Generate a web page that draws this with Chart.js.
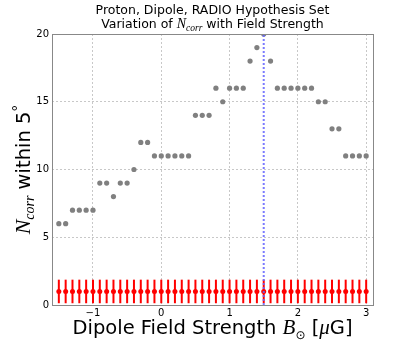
<!DOCTYPE html>
<html>
<head>
<meta charset="utf-8">
<script src="https://cdn.jsdelivr.net/npm/chart.js@4/dist/chart.umd.min.js"></script>
<style>
  html, body { margin: 0; padding: 0; background: #fff; }
  #wrap { width: 415px; height: 340px; }
</style>
</head>
<body>
<div id="wrap"><canvas id="myChart" width="415" height="340"></canvas></div>
<script>
// field strength values (micro gauss) and the N_corr
var fieldStrength = [-1.5, -1.4, -1.3, -1.2, -1.1, -1.0, -0.9, -0.8, -0.7, -0.6,
  -0.5, -0.4, -0.3, -0.2, -0.1, 0.0, 0.1, 0.2, 0.3, 0.4,
  0.5, 0.6, 0.7, 0.8, 0.9, 1.0, 1.1, 1.2, 1.3, 1.4,
  1.5, 1.6, 1.7, 1.8, 1.9, 2.0, 2.1, 2.2, 2.3, 2.4,
  2.5, 2.6, 2.7, 2.8, 2.9, 3.0];
var nCorr = [6, 6, 7, 7, 7, 7, 9, 9, 8, 9,
  9, 10, 12, 12, 11, 11, 11, 11, 11, 11,
  14, 14, 14, 16, 15, 16, 16, 16, 18, 19,
  20, 18, 16, 16, 16, 16, 16, 16, 15, 15,
  13, 13, 11, 11, 11, 11];
// isotropic expectation (red) with its error bar
var nullMean = [1, 1, 1, 1, 1, 1, 1, 1, 1, 1,
  1, 1, 1, 1, 1, 1, 1, 1, 1, 1,
  1, 1, 1, 1, 1, 1, 1, 1, 1, 1,
  1, 1, 1, 1, 1, 1, 1, 1, 1, 1,
  1, 1, 1, 1, 1, 1];
var nullErr = [0.87, 0.87, 0.87, 0.87, 0.87, 0.87, 0.87, 0.87, 0.87, 0.87,
  0.87, 0.87, 0.87, 0.87, 0.87, 0.87, 0.87, 0.87, 0.87, 0.87,
  0.87, 0.87, 0.87, 0.87, 0.87, 0.87, 0.87, 0.87, 0.87, 0.87,
  0.87, 0.87, 0.87, 0.87, 0.87, 0.87, 0.87, 0.87, 0.87, 0.87,
  0.87, 0.87, 0.87, 0.87, 0.87, 0.87];
var bestField = [1.5, 1.5];
var bestLineY = [0, 20];
var xTicks = [-1, 0, 1, 2, 3];
var xTickLabels = ["\u22121", "0", "1", "2", "3"];
var yTicks = [0, 5, 10, 15, 20];

var ctx = document.getElementById("myChart");

function pts(xs, ys) {
  return xs.map(function (x, i) { return { x: x, y: ys[i] }; });
}

// draw a run of text pieces (different fonts, sub/superscripts) centred on cx
function drawRuns(c, runs, cx, cy) {
  var total = 0;
  runs.forEach(function (r) { c.font = r.font; total += c.measureText(r.text).width; });
  var x = cx - total / 2;
  c.textBaseline = "alphabetic";
  c.textAlign = "left";
  c.fillStyle = "#000";
  runs.forEach(function (r) {
    c.font = r.font;
    c.fillText(r.text, x, cy + (r.dy || 0));
    x += c.measureText(r.text).width;
  });
}

var errorBars = {
  id: "errorBars",
  beforeDatasetsDraw: function (chart) {
    var c = chart.ctx, xs = chart.scales.x, ys = chart.scales.y;
    c.save();
    c.strokeStyle = "#ff0000";
    c.lineWidth = 2;
    fieldStrength.forEach(function (f, i) {
      var px = xs.getPixelForValue(f);
      c.beginPath();
      c.moveTo(px, ys.getPixelForValue(nullMean[i] - nullErr[i]));
      c.lineTo(px, ys.getPixelForValue(nullMean[i] + nullErr[i]));
      c.stroke();
    });
    c.restore();
  }
};

var frameAndText = {
  id: "frameAndText",
  afterDraw: function (chart) {
    var c = chart.ctx, a = chart.chartArea;
    c.save();
    c.strokeStyle = "#888";
    c.lineWidth = 1;
    c.strokeRect(Math.round(a.left) + 0.5, Math.round(a.top) + 0.5,
      Math.round(a.right - a.left), Math.round(a.bottom - a.top));

    var cx = (a.left + a.right) / 2;
    var sans = "px 'DejaVu Sans', sans-serif";
    var serifI = "italic ";
    drawRuns(c, [{ text: "Proton, Dipole, RADIO Hypothesis Set", font: "12.5" + sans }], cx, 14);
    drawRuns(c, [
      { text: "Variation of ", font: "12.5" + sans },
      { text: "N", font: serifI + "14px 'Liberation Serif', serif" },
      { text: "corr", font: serifI + "9.5px 'Liberation Serif', serif", dy: 2.5 },
      { text: " with Field Strength", font: "12.5" + sans }
    ], cx, 28);

    drawRuns(c, [
      { text: "Dipole Field Strength ", font: "19.5" + sans },
      { text: "B", font: serifI + "21px 'Liberation Serif', serif" },
      { text: "\u2299", font: "12px 'DejaVu Sans', sans-serif", dy: 5 },
      { text: " [", font: "19.5" + sans },
      { text: "\u03bc", font: serifI + "21px 'Liberation Serif', serif" },
      { text: "G]", font: "19.5" + sans }
    ], cx, 334);

    c.translate(30, (a.top + a.bottom) / 2);
    c.rotate(-Math.PI / 2);
    drawRuns(c, [
      { text: "N", font: serifI + "22px 'Liberation Serif', serif" },
      { text: "corr", font: serifI + "14px 'Liberation Serif', serif", dy: 4 },
      { text: " within 5", font: "19.5" + sans },
      { text: "\u00b0", font: "14" + sans, dy: -7 }
    ], 0, 0);
    c.restore();
  }
};

new Chart(ctx, {
  type: "scatter",
  data: {
    datasets: [
      {
        label: "best field",
        type: "line",
        data: pts(bestField, bestLineY),
        borderColor: "rgba(100,100,255,0.85)",
        borderWidth: 2,
        borderDash: [2, 2],
        pointRadius: 0,
        order: 0
      },
      {
        label: "N_corr",
        data: pts(fieldStrength, nCorr),
        backgroundColor: "#808080",
        borderColor: "#808080",
        pointRadius: 2.6,
        borderWidth: 0,
        order: 1
      },
      {
        label: "isotropic",
        data: pts(fieldStrength, nullMean),
        backgroundColor: "#ff0000",
        borderColor: "#ff0000",
        pointRadius: 2.5,
        borderWidth: 0,
        order: 2
      }
    ]
  },
  options: {
    responsive: false,
    animation: false,
    events: [],
    layout: { padding: { left: 0, top: 34, right: 42, bottom: 0 } },
    plugins: { legend: { display: false }, tooltip: { enabled: false } },
    scales: {
      x: {
        type: "linear",
        min: -1.6,
        max: 3.1,
        afterBuildTicks: function (s) { s.ticks = xTicks.map(function (v) { return { value: v }; }); },
        afterFit: function (s) { s.height = 35; },
        ticks: {
          padding: 2,
          color: "#000",
          font: { family: "'DejaVu Sans', sans-serif", size: 10 },
          callback: function (v) { return xTickLabels[xTicks.indexOf(v)]; }
        },
        grid: { color: "#c8c8c8", drawTicks: false, lineWidth: 1 },
        border: { display: false, dash: [2, 2] }
      },
      y: {
        min: 0,
        max: 20,
        afterBuildTicks: function (s) { s.ticks = yTicks.map(function (v) { return { value: v }; }); },
        afterFit: function (s) { s.width = 52; },
        ticks: {
          padding: 3,
          color: "#000",
          font: { family: "'DejaVu Sans', sans-serif", size: 10 }
        },
        grid: { color: "#c8c8c8", drawTicks: false, lineWidth: 1 },
        border: { display: false, dash: [2, 2] }
      }
    }
  },
  plugins: [errorBars, frameAndText]
});
</script>
</body>
</html>
